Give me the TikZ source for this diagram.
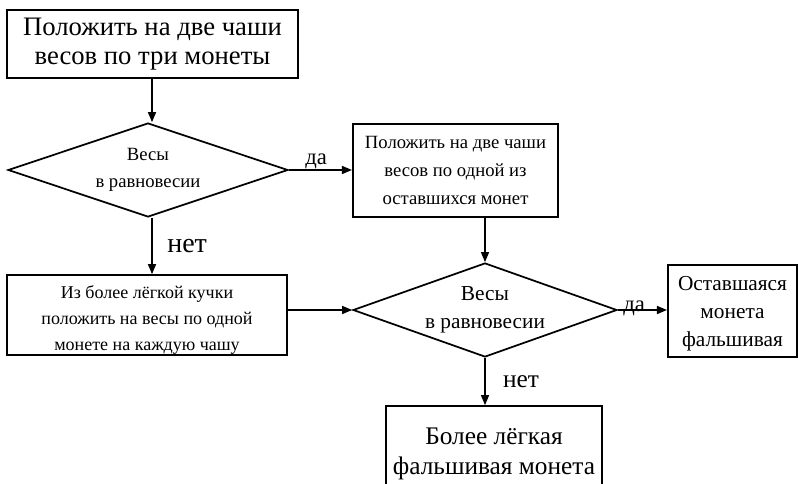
\documentclass[tikz,border=0pt]{standalone}
\usepackage{fontspec}
\setmainfont{Liberation Serif}
\usetikzlibrary{shapes.geometric,arrows.meta}
\begin{document}
\begin{tikzpicture}[x=0.75pt,y=-0.75pt,
  every node/.style={inner sep=0pt, align=center},
  box/.style={draw, rectangle, line width=1.3pt},
  dia/.style={draw, diamond, line width=1.3pt},
  arr/.style={line width=1pt, -{Triangle[length=7.5pt,width=6pt]}},
  lbl/.style={anchor=base west}]
\useasboundingbox (0,0) rectangle (798,484);
\node[box, minimum width=218pt, minimum height=51pt, font=\fontsize{20}{22}\selectfont] (b1) at (152.5,44) {Положить на две чаши\\весов по три монеты};
\node[dia, minimum width=210pt, minimum height=70.5pt, aspect=2.95, font=\fontsize{14}{20}\selectfont] (d1) at (148,170) {Весы\\в равновесии};
\node[box, minimum width=154pt, minimum height=70pt, font=\fontsize{14}{21}\selectfont] (b2) at (455.5,170.5) {Положить на две чаши\\весов по одной из\\оставшихся монет};
\node[box, minimum width=210pt, minimum height=60pt] (b3) at (147,315) {};
\node[font=\fontsize{13.5}{19.5}\selectfont] (b3t) at (147,320) {Из более лёгкой кучки\\положить на весы по одной\\монете на каждую чашу};
\node[dia, minimum width=198pt, minimum height=70.5pt, aspect=2.8, font=\fontsize{16}{21}\selectfont] (d2) at (485,310) {Весы\\в равновесии};
\node[box, minimum width=97pt, minimum height=69pt] (b4) at (732.5,311) {};
\node[font=\fontsize{16}{21}\selectfont] (b4t) at (732.5,314) {Оставшаяся\\монета\\фальшивая};
\node[box, minimum width=162pt, minimum height=72pt, font=\fontsize{19}{22}\selectfont] (b5) at (494,454) {Более лёгкая\\фальшивая монета};
\coordinate (d1n) at (152,123);
\draw[arr] (b1.south -| d1n) -- (d1.north -| d1n);
\draw[arr] (d1.east) -- (b2.west |- d1.east) node[pos=0.25, lbl, yshift=4pt, font=\fontsize{17}{18}\selectfont] (l1) {да};
\draw[arr] (d1.south -| d1n) -- (b3.north -| d1n) node[pos=0.62, lbl, xshift=11pt, font=\fontsize{21}{22}\selectfont] (l2) {нет};
\draw[arr] (b2.south -| d2.north) -- (d2.north);
\draw[arr] (b3.east |- d2.west) -- (d2.west);
\draw[arr] (d2.east) -- (b4.west |- d2.east) node[pos=0.1, lbl, yshift=-1pt, font=\fontsize{17}{18}\selectfont] (l3) {да};
\draw[arr] (d2.south) -- (b5.north -| d2.south) node[pos=0.62, lbl, xshift=13pt, font=\fontsize{19}{20}\selectfont] (l4) {нет};
\end{tikzpicture}
\end{document}
